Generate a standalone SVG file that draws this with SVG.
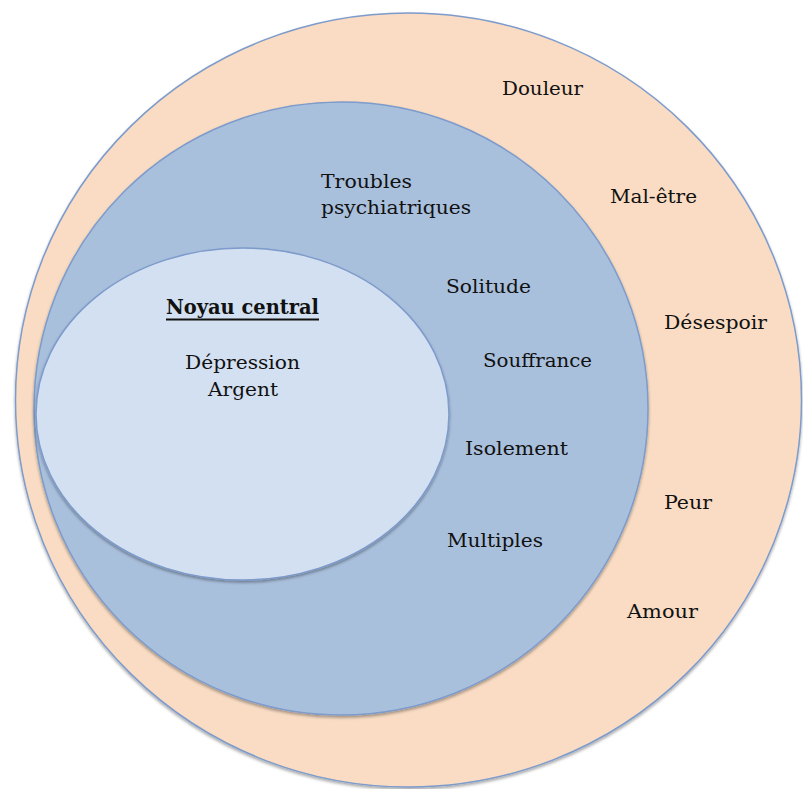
<svg xmlns="http://www.w3.org/2000/svg" width="803" height="789" viewBox="0 0 803 789">
  <defs>
    <filter id="shadow" x="-10%" y="-10%" width="120%" height="120%">
      <feDropShadow dx="0" dy="2" stdDeviation="1.5" flood-color="#000000" flood-opacity="0.35"/>
    </filter>
    <style>
      .ring { stroke: #7D9BCB; stroke-width: 1.5; filter: url(#shadow); }
      .outer { fill: #F9DCC3; }
      .middle { fill: #A9C0DD; }
      .inner { fill: #D3E0F1; }
      .lbl { font-family: "DejaVu Serif", "Liberation Serif", serif; font-size: 19px; fill: #111111; }
      .title { font-family: "DejaVu Serif", "Liberation Serif", serif; font-size: 20.5px; font-weight: bold; fill: #111111; }
    </style>
  </defs>
  <rect x="0" y="0" width="803" height="789" fill="#FFFFFF"/>

  <g id="outer-circle">
    <ellipse class="ring outer" cx="408.5" cy="400" rx="393" ry="387"/>
    <text class="lbl" x="502" y="95" textLength="81" lengthAdjust="spacingAndGlyphs">Douleur</text>
    <text class="lbl" x="610" y="203" textLength="87" lengthAdjust="spacingAndGlyphs">Mal-être</text>
    <text class="lbl" x="664" y="329" textLength="103" lengthAdjust="spacingAndGlyphs">Désespoir</text>
    <text class="lbl" x="664" y="509" textLength="48" lengthAdjust="spacingAndGlyphs">Peur</text>
    <text class="lbl" x="627" y="618" textLength="71" lengthAdjust="spacingAndGlyphs">Amour</text>
  </g>

  <g id="middle-circle">
    <ellipse class="ring middle" cx="341" cy="408.5" rx="307" ry="306.5"/>
    <text class="lbl" x="321" y="188" textLength="91" lengthAdjust="spacingAndGlyphs">Troubles</text>
    <text class="lbl" x="321" y="214" textLength="150" lengthAdjust="spacingAndGlyphs">psychiatriques</text>
    <text class="lbl" x="446" y="293" textLength="85" lengthAdjust="spacingAndGlyphs">Solitude</text>
    <text class="lbl" x="483" y="367" textLength="109" lengthAdjust="spacingAndGlyphs">Souffrance</text>
    <text class="lbl" x="465" y="455" textLength="103" lengthAdjust="spacingAndGlyphs">Isolement</text>
    <text class="lbl" x="447" y="547" textLength="96" lengthAdjust="spacingAndGlyphs">Multiples</text>
  </g>

  <g id="inner-core">
    <ellipse class="ring inner" cx="242.5" cy="414" rx="206.5" ry="166"/>
    <text class="title" x="166" y="314" textLength="153" lengthAdjust="spacingAndGlyphs">Noyau central</text>
    <line x1="166" y1="319.5" x2="319" y2="319.5" stroke="#111111" stroke-width="1.8"/>
    <text class="lbl" x="185" y="369" textLength="115" lengthAdjust="spacingAndGlyphs">Dépression</text>
    <text class="lbl" x="208" y="396" textLength="70" lengthAdjust="spacingAndGlyphs">Argent</text>
  </g>

  <g id="connectors"></g>
</svg>
